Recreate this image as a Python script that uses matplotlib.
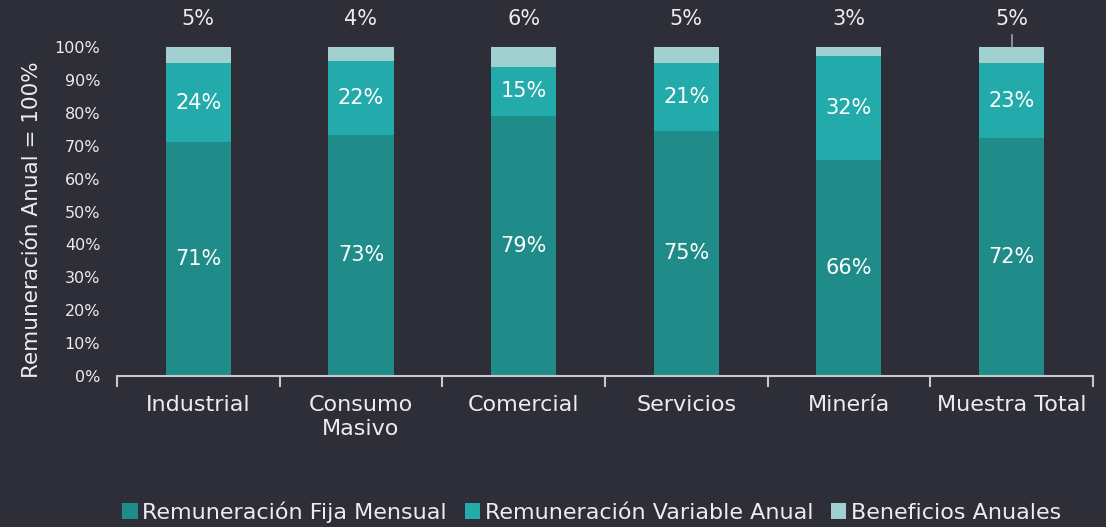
import matplotlib.pyplot as plt
from matplotlib.ticker import FuncFormatter
import numpy as np

BG = "#2e2e38"
TXT = "#ececec"
COLORS = ["#1f8c89", "#23aaaa", "#a2cfcf"]

categories = ["Industrial", "Consumo\nMasivo", "Comercial", "Servicios", "Minería", "Muestra Total"]
fija = [71.1, 73.4, 79.0, 74.6, 65.7, 72.3]
variable = [24.0, 22.3, 15.0, 20.6, 31.6, 22.8]
beneficios = [4.9, 4.3, 6.0, 4.8, 2.7, 4.9]
series_names = ["Remuneración Fija Mensual", "Remuneración Variable Anual", "Beneficios Anuales"]

plt.rcParams["font.family"] = ["DejaVu Sans"]

fig = plt.figure(figsize=(11.06, 5.27), dpi=100, facecolor=BG)
ax = fig.add_axes([0.1058, 0.2865, 0.8824, 0.6243], facecolor=BG)

x = np.arange(len(categories))
w = 0.4
b1 = ax.bar(x, fija, w, color=COLORS[0], label=series_names[0])
b2 = ax.bar(x, variable, w, bottom=fija, color=COLORS[1], label=series_names[1])
bottom3 = [a + b for a, b in zip(fija, variable)]
b3 = ax.bar(x, beneficios, w, bottom=bottom3, color=COLORS[2], label=series_names[2])

for i in range(len(categories)):
    ax.text(x[i], fija[i] / 2, f"{fija[i]:.0f}%", ha="center", va="center",
            color="white", fontsize=15)
    ax.text(x[i], fija[i] + variable[i] / 2, f"{variable[i]:.0f}%", ha="center",
            va="center", color="white", fontsize=15)
    ax.text(x[i], 108.5, f"{beneficios[i]:.0f}%", ha="center", va="center",
            color=TXT, fontsize=15, clip_on=False)

# leader line for the last label
ax.plot([x[-1], x[-1]], [100, 103.5], color="#a0a0a8", lw=1.2, clip_on=False)

ax.set_xlim(-0.5, len(categories) - 0.5)
ax.set_ylim(0, 100)
ax.set_yticks(np.arange(0, 101, 10))
ax.yaxis.set_major_formatter(FuncFormatter(lambda v, p: f"{v:.0f}%"))
ax.tick_params(axis="y", length=0, labelsize=11.5, colors=TXT, pad=12)
ax.set_xticks(x)
ax.set_xticklabels(categories)
ax.tick_params(axis="x", length=0, labelsize=16, colors=TXT, pad=14)
ax.set_xticks(np.arange(-0.5, len(categories)), minor=True)
ax.tick_params(axis="x", which="minor", length=8, width=1.5, color="#c8c8cc")

for s in ["top", "right", "left"]:
    ax.spines[s].set_visible(False)
ax.spines["bottom"].set_color("#c8c8cc")
ax.spines["bottom"].set_linewidth(1.5)

ax.set_ylabel("Remuneración Anual = 100%", color=TXT, fontsize=15.5)
ax.yaxis.set_label_coords(-0.077, 0.476)

leg = fig.legend(handles=[b1, b2, b3], loc="lower center", ncol=3, frameon=False,
                 bbox_to_anchor=(0.535, -0.03), fontsize=16, handlelength=0.7,
                 handleheight=0.7, handletextpad=0.2, columnspacing=0.8)
for t in leg.get_texts():
    t.set_color(TXT)

fig.savefig("out.png", dpi=100, facecolor=BG)
